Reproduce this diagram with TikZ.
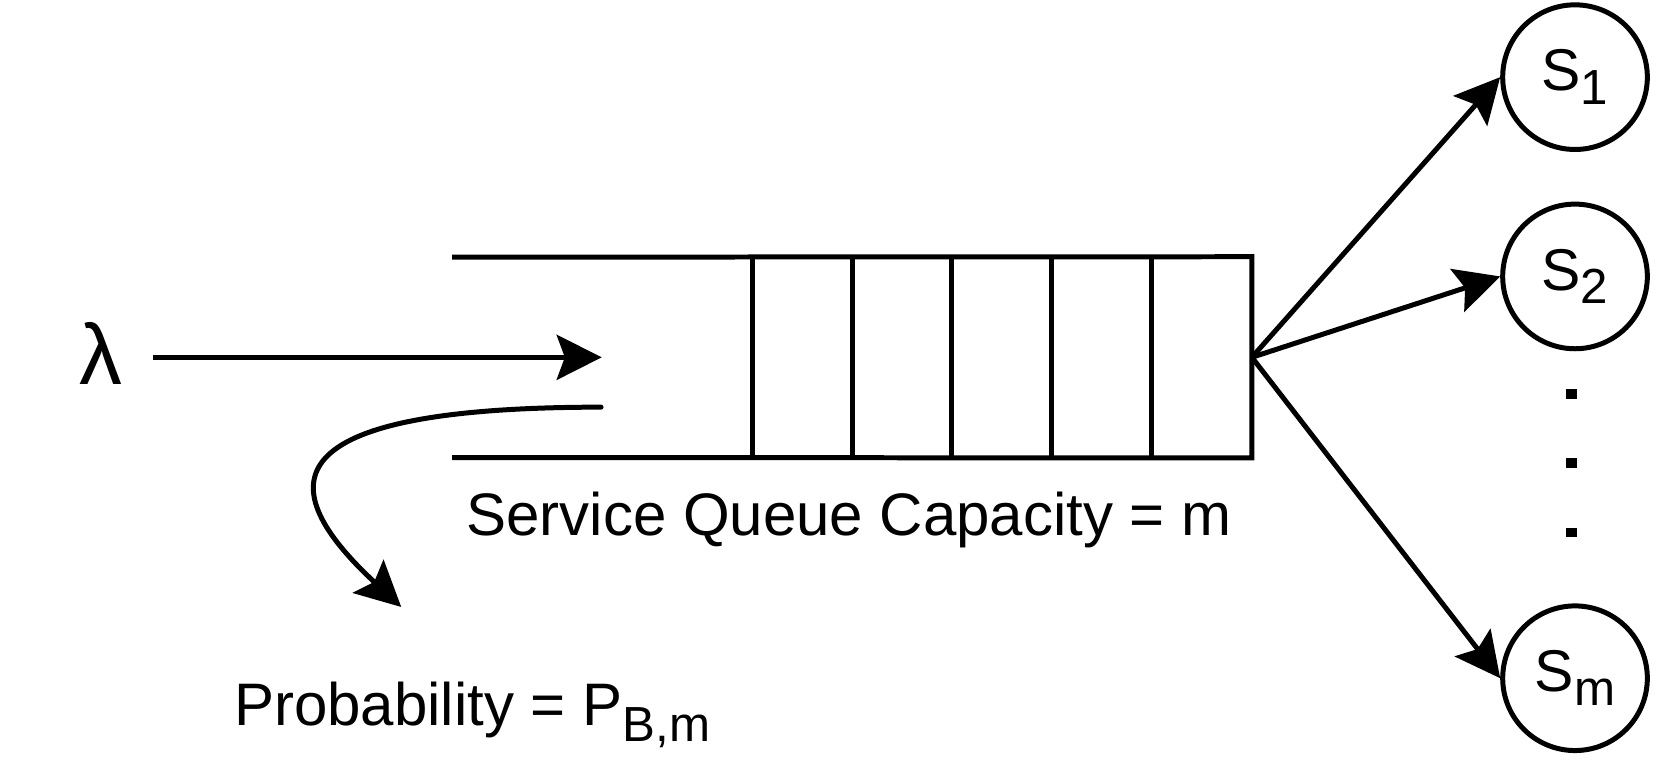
\documentclass[tikz,border=0pt]{standalone}
\usepackage{fontspec}
\setmainfont{Liberation Sans}
\usetikzlibrary{arrows.meta}
\tikzset{
  ln/.style={line width=2.33pt},
  arr/.style={ln, -{Stealth[length=21pt,width=21pt,inset=3.8pt]}},
  srv/.style={circle, draw, line width=2.33pt, minimum size=67.5pt, inner sep=0pt, font=\fontsize{27.5pt}{33pt}\selectfont},
  lbl/.style={inner sep=0pt, font=\fontsize{28pt}{34pt}\selectfont},
  sqdot/.style={fill, inner sep=0pt, minimum width=5pt, minimum height=4.5pt},
}
\newcommand{\mysub}[2]{\raisebox{-#1}{\fontsize{23pt}{27pt}\selectfont #2}}
\begin{document}
\begin{tikzpicture}[x=0.5pt, y=-0.5pt]
\useasboundingbox (0,0) rectangle (1568,709);
% input
\node[lbl, anchor=base, font=\fontsize{40pt}{48pt}\selectfont] (lam) at (94,359) {λ};
\coordinate (in) at (143,333.5);
\coordinate (mouth) at (561.6,333.5);
\draw[arr] (in) -- (mouth);
% queue
\node[inner sep=0pt, minimum width=233pt, minimum height=93.5pt] (queue) at (935,333.5) {};
\draw[ln] (422,240) -- (queue.north east) -- (queue.south east) -- (422,427);
\foreach \x in {702,795.2,888.4,981.6,1074.8}
  \draw[ln] (\x,240) -- (\x,427);
\node[lbl, anchor=base] (cap) at (792.5,500) {Service Queue Capacity = m};
% blocked
\coordinate (bs) at (561,380);
\coordinate (be) at (374.5,566.5);
\draw[arr, line cap=round] (bs) .. controls (253,380) and (252,453) .. (be);
\node[lbl, anchor=base west] (prob) at (218,677) {Probability = P\mysub{7.5pt}{B,m}};
% servers
\node[srv] (s1) at (1470,72) {S\mysub{6.5pt}{1}};
\node[srv] (s2) at (1470,258) {S\mysub{6.5pt}{2}};
\node[srv] (sm) at (1470,633) {S\mysub{6.5pt}{m}};
\foreach \s in {s1,s2,sm}
  \draw[arr] (queue.east) -- (\s.west);
\node[sqdot] (d1) at (1467,368) {};
\node[sqdot] (d2) at (1467,432) {};
\node[sqdot] (d3) at (1467,497) {};
\end{tikzpicture}
\end{document}
